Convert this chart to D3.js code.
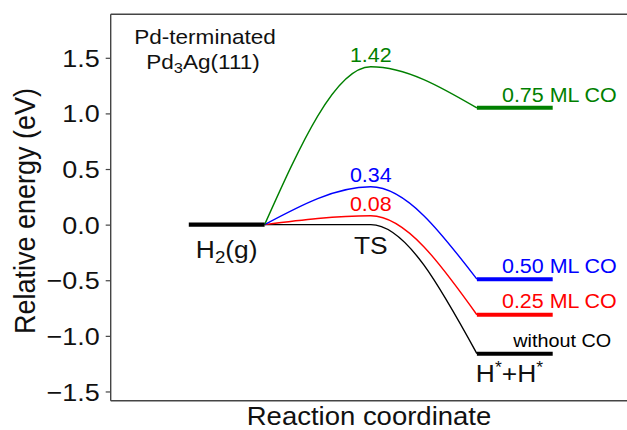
<!DOCTYPE html>
<html>
<head>
<meta charset="utf-8">
<script src="https://cdn.jsdelivr.net/npm/d3@7"></script>
<style>
    body { margin: 0; background: #fff; }
    text { font-family: "Liberation Sans", Arial, sans-serif; }
</style>
</head>
<body>
<div id="chart"></div>
<script>
// energies (eV) for each CO coverage
const coverages = ["without CO", "0.25 ML CO", "0.50 ML CO", "0.75 ML CO"];
const colors = ["#000000", "#ff0000", "#0000ff", "#008000"];
const tsEnergy = [0.00, 0.08, 0.34, 1.42];
const finalEnergy = [-1.16, -0.81, -0.49, 1.05];
const initialEnergy = 0.0;

// reaction coordinate of each state
const initialX = [0, 1];
const tsX = 2.4;
const finalX = [3.8, 4.8];

const yTicks = [-1.5, -1.0, -0.5, 0.0, 0.5, 1.0, 1.5];

class EnergyProfileVis {
    constructor(_parentElement) {
        this.parentElement = _parentElement;
        this.initVis();
    }

    initVis() {
        let vis = this;

        vis.margin = { top: 14.3, right: 0, bottom: 29.3, left: 110.7 };
        vis.width = 627 - vis.margin.left - vis.margin.right;
        vis.height = 430 - vis.margin.top - vis.margin.bottom;
        vis.sx = 1.1; // text looks a bit wider than tall in the figure

        vis.svgRoot = d3.select("#" + vis.parentElement).append("svg")
            .attr("width", 627)
            .attr("height", 430);

        vis.svg = vis.svgRoot.append("g")
            .attr("transform", "translate(" + vis.margin.left + "," + vis.margin.top + ")");

        vis.x = d3.scaleLinear().domain([-1.03, 5.78]).range([0, vis.width]);
        vis.y = d3.scaleLinear().domain([-1.583, 1.891]).range([vis.height, 0]);

        // y axis
        vis.yAxis = d3.axisLeft(vis.y)
            .tickValues(yTicks)
            .tickFormat(d3.format(".1f"))
            .tickSize(5)
            .tickPadding(5);

        let ax = vis.svg.append("g").attr("class", "y-axis").call(vis.yAxis);
        ax.select(".domain").remove();
        ax.selectAll(".tick line").attr("stroke", "#444").attr("stroke-width", 1.2);
        ax.selectAll(".tick text")
            .attr("x", 0)
            .attr("dy", "0.35em")
            .attr("transform", "translate(-11,0) scale(" + vis.sx + ",1)")
            .style("font-size", "24.5px")
            .attr("fill", "#111");

        // frame (right spine falls outside the picture)
        let frame = vis.svg.append("g").attr("stroke", "#444").attr("stroke-width", 1.4);
        frame.append("line").attr("x1", 0).attr("x2", 0).attr("y1", 0).attr("y2", vis.height);
        frame.append("line").attr("x1", 0).attr("x2", vis.width).attr("y1", 0).attr("y2", 0);
        frame.append("line").attr("x1", 0).attr("x2", vis.width).attr("y1", vis.height).attr("y2", vis.height);

        // axis titles
        vis.addText(vis.svgRoot, 369, 424.8, "Reaction coordinate", 25, "#111", "middle");
        vis.svgRoot.append("text")
            .attr("transform", "translate(35,211) scale(" + vis.sx + ",1) rotate(-90)")
            .attr("text-anchor", "middle")
            .style("font-size", "27px")
            .attr("fill", "#111")
            .text("Relative energy (eV)");

        vis.wrangleData();
    }

    addText(sel, x, y, str, size, color, anchor) {
        let vis = this;
        return sel.append("text")
            .attr("transform", "translate(" + x + "," + y + ") scale(" + vis.sx + ",1)")
            .attr("text-anchor", anchor)
            .style("font-size", size + "px")
            .attr("fill", color)
            .text(str);
    }

    wrangleData() {
        let vis = this;

        vis.displayData = coverages.map((c, i) => ({
            name: c,
            color: colors[i],
            ts: tsEnergy[i],
            final: finalEnergy[i],
            path: [[initialX[1], initialEnergy], [tsX, tsEnergy[i]], [finalX[0], finalEnergy[i]]]
        }));

        vis.updateVis();
    }

    updateVis() {
        let vis = this;

        let line = d3.line()
            .x(d => vis.x(d[0]))
            .y(d => vis.y(d[1]))
            .curve(d3.curveMonotoneX);

        // connecting curves
        vis.svg.selectAll(".path-curve")
            .data(vis.displayData)
            .enter().append("path")
            .attr("class", "path-curve")
            .attr("d", d => line(d.path))
            .attr("fill", "none")
            .attr("stroke", d => d.color)
            .attr("stroke-width", 1.4);

        // initial state level
        vis.svg.append("line")
            .attr("x1", vis.x(initialX[0])).attr("x2", vis.x(initialX[1]))
            .attr("y1", vis.y(initialEnergy)).attr("y2", vis.y(initialEnergy))
            .attr("stroke", "#000").attr("stroke-width", 4.2);

        // final state levels
        vis.svg.selectAll(".final-level")
            .data(vis.displayData)
            .enter().append("line")
            .attr("class", "final-level")
            .attr("x1", vis.x(finalX[0])).attr("x2", vis.x(finalX[1]))
            .attr("y1", d => vis.y(d.final)).attr("y2", d => vis.y(d.final))
            .attr("stroke", d => d.color)
            .attr("stroke-width", 4);

        // barrier labels (skip the zero barrier)
        vis.displayData.filter(d => d.ts > 0).forEach(d => {
            vis.addText(vis.svg, vis.x(tsX), vis.y(d.ts) - 5, d3.format(".2f")(d.ts), 19.5, d.color, "middle");
        });

        // coverage labels
        vis.displayData.forEach((d, i) => {
            let small = i === 0;
            vis.addText(vis.svg, vis.x(small ? 5.57 : 5.645) , vis.y(d.final) - (small ? 7 : 6.3),
                d.name, small ? 18 : 19.5, d.color, "end");
        });

        // state labels
        let h2 = vis.addText(vis.svg, vis.x(0.5), vis.y(initialEnergy) + 33, "", 24, "#111", "middle");
        h2.append("tspan").text("H");
        h2.append("tspan").attr("dy", 5).style("font-size", "17px").text("2");
        h2.append("tspan").attr("dy", -5).text("(g)");

        vis.addText(vis.svg, vis.x(tsX), vis.y(0) + 29, "TS", 24, "#111", "middle");

        let hh = vis.addText(vis.svg, vis.x(4.23), vis.y(finalEnergy[0]) + 28.5, "", 24, "#111", "middle");
        hh.append("tspan").text("H");
        hh.append("tspan").attr("dy", -9).style("font-size", "16px").text("*");
        hh.append("tspan").attr("dy", 9).text("+H");
        hh.append("tspan").attr("dy", -9).style("font-size", "16px").text("*");

        // surface title
        vis.addText(vis.svgRoot, 205, 44, "Pd-terminated", 20.5, "#111", "middle");
        let pd = vis.addText(vis.svgRoot, 203, 69.3, "", 20.5, "#111", "middle");
        pd.append("tspan").text("Pd");
        pd.append("tspan").attr("dy", 4).style("font-size", "15px").text("3");
        pd.append("tspan").attr("dy", -4).text("Ag(111)");
    }
}

new EnergyProfileVis("chart");
</script>
</body>
</html>
